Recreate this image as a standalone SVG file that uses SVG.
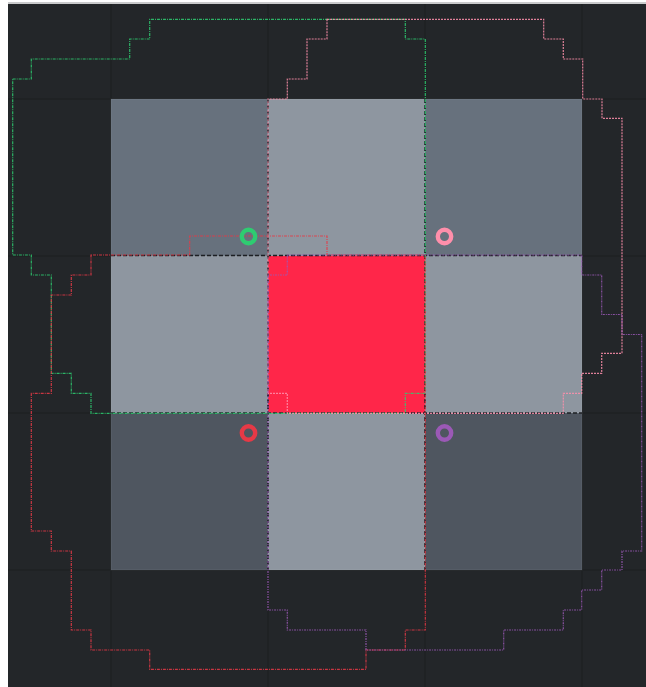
<svg xmlns="http://www.w3.org/2000/svg" width="646" height="687" viewBox="0 0 646 687">
<style>
.sq{stroke:#ffffff;stroke-opacity:0.08;stroke-width:1}
.mid{fill:#67717d}
.lt{fill:#8e96a0}
.dk{fill:#4f5660}
.ring{fill:none;stroke-width:4.4}
.loop{fill:none;stroke-width:1.2;stroke-opacity:0.85}
.sep{fill:none;stroke:#1c1f23;stroke-width:1.6;stroke-dasharray:4 2}
.grid{stroke:#1c1e21;stroke-width:1}
</style>
<rect x="0" y="0" width="646" height="687" fill="#ffffff"/>
<rect x="8" y="2" width="638" height="685" fill="#c9cacb"/>
<rect x="8" y="4" width="638" height="683" fill="#232629"/>
<g id="bg-grid">
<line class="grid" x1="111" y1="4" x2="111" y2="687"/>
<line class="grid" x1="268" y1="4" x2="268" y2="687"/>
<line class="grid" x1="425" y1="4" x2="425" y2="687"/>
<line class="grid" x1="582" y1="4" x2="582" y2="687"/>
<line class="grid" x1="8" y1="99" x2="646" y2="99"/>
<line class="grid" x1="8" y1="256" x2="646" y2="256"/>
<line class="grid" x1="8" y1="413" x2="646" y2="413"/>
<line class="grid" x1="8" y1="570" x2="646" y2="570"/>
</g>
<g id="cell-0-0"><rect class="sq mid" x="111" y="99" width="157" height="157"/></g>
<g id="cell-0-1"><rect class="sq lt" x="268" y="99" width="157" height="157"/></g>
<g id="cell-0-2"><rect class="sq mid" x="425" y="99" width="157" height="157"/></g>
<g id="cell-1-0"><rect class="sq lt" x="111" y="256" width="157" height="157"/></g>
<g id="cell-1-1"><rect x="268" y="256" width="157" height="157" fill="#ff2649"/></g>
<g id="cell-1-2"><rect class="sq lt" x="425" y="256" width="157" height="157"/></g>
<g id="cell-2-0"><rect class="sq dk" x="111" y="413" width="157" height="157"/></g>
<g id="cell-2-1"><rect class="sq lt" x="268" y="413" width="157" height="157"/></g>
<g id="cell-2-2"><rect class="sq dk" x="425" y="413" width="157" height="157"/></g>
<g id="connectors">
<path class="sep" d="M268 99V570M425 99V570M111 255.5H582M111 413H582"/>
<path class="loop" stroke="#2ecc71" stroke-dasharray="3 1 1 1" d="M12.7 79H31.3V59H129.7V39H149.7V19.3H405.3V39H425.3V393.3H405.3V413.3H91V393.3H71.3V373.3H51.3V275H31.3V255H12.7Z"/>
<path class="loop" stroke="#ff8fab" stroke-dasharray="2 1" d="M327 19.3H543.7V39H563.3V59H582.7V99H602V118.3H622V353.3H601.7V373.3H581.7V393.3H563.3V413.3H287.3V393.3H268V99H287.3V79H307V39H327Z"/>
<path class="loop" stroke="#e63946" stroke-dasharray="1 1 3 1" d="M91 255H189.7V236H327V255H425.3V630H405.3V650H366V669.3H149.7V650H91V630H71.3V551H51.3V531H31.3V393.3H51.3V295H71.3V275H91Z"/>
<path class="loop" stroke="#9b59b6" stroke-dasharray="2 1 1 1" d="M287.3 255H581.7V275H601.7V314.5H622V334.5H641.7V551H622V570H601.7V590H581.7V610H563.3V630H503.7V650H366V630H287.3V610H268V275H287.3Z"/>
</g>
<g id="marker-green"><circle class="ring" cx="248.5" cy="236.5" r="6.7" stroke="#2ecc71"/></g>
<g id="marker-pink"><circle class="ring" cx="444.5" cy="236.5" r="6.7" stroke="#ff8fab"/></g>
<g id="marker-red"><circle class="ring" cx="248.5" cy="433" r="6.7" stroke="#e63946"/></g>
<g id="marker-purple"><circle class="ring" cx="444.5" cy="433" r="6.7" stroke="#9b59b6"/></g>
</svg>
